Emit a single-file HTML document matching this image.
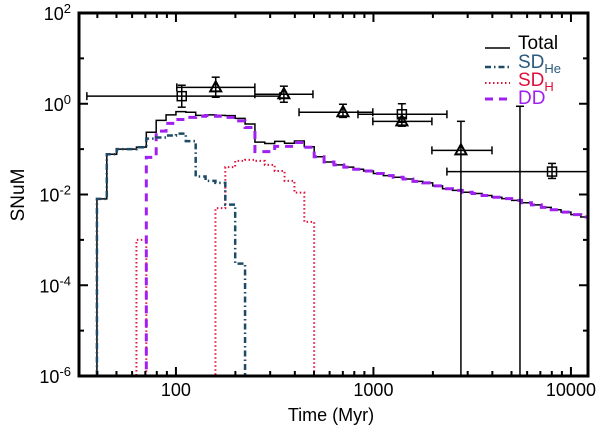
<!DOCTYPE html>
<html><head><meta charset="utf-8"><style>
html,body{margin:0;padding:0;background:#fff;width:600px;height:433px;overflow:hidden;}
svg{display:block;font-family:"Liberation Sans",Arial,sans-serif;}
</style></head><body>
<svg id="chart" width="600" height="433" viewBox="0 0 600 433" xmlns="http://www.w3.org/2000/svg">
<defs><clipPath id="clip"><rect x="79" y="13" width="509" height="363"/></clipPath></defs>
<g id="series" clip-path="url(#clip)"></g>
<g id="obs" clip-path="url(#clip)"></g>
<g id="axes"></g>
<g>
 <g>
  <line x1="485" y1="48" x2="510" y2="48" stroke="#000" stroke-width="1.5"/>
  <text x="518" y="49" font-size="19" fill="#000">Total</text></g>
 <g>
  <line x1="485" y1="67" x2="510" y2="67" stroke="#1d4a66" stroke-width="2.5" stroke-dasharray="6,3,1.5,3"/>
  <text x="518" y="68" font-size="19" fill="#2a5a7e">SD<tspan font-size="13" dy="5">He</tspan></text></g>
 <g>
  <line x1="485" y1="83" x2="510" y2="83" stroke="#e0103c" stroke-width="2" stroke-dasharray="1.5,2.5"/>
  <text x="518" y="86" font-size="19" fill="#e0103c">SD<tspan font-size="13" dy="5">H</tspan></text></g>
 <g>
  <line x1="485" y1="99" x2="510" y2="99" stroke="#a020f0" stroke-width="3" stroke-dasharray="8,6"/>
  <text x="518" y="104" font-size="19" fill="#a020f0">DD</text></g>
</g>
<text x="331" y="421" font-size="18" text-anchor="middle">Time (Myr)</text>
<text x="0" y="0" font-size="19" text-anchor="middle" transform="translate(24,195) rotate(-90)">SNuM</text>
</svg>
<script>
// bins: log-spaced edges 10^(1.6+0.05k)
const binStartLog = 1.6;
const binStepLog = 0.05;
const sdHe = [0.008,0.077,0.1,0.1,0.11,0.17,0.18,0.2,0.22,0.15,0.025,0.02,0.018,0.006,0.0003];
const sdH = [0,0,0,0,0.001,0,0,0,0,0,0,0,0.005,0.04,0.055,0.058,0.055,0.045,0.033,0.02,0.011,0.0025];
const dd = [0,0,0,0,0,0.066,0.25,0.37,0.45,0.5,0.53,0.55,0.53,0.5,0.42,0.3,0.088,0.088,0.115,0.115,0.14,0.11,0.068,0.052,0.045,0.04,0.036,0.033,0.029,0.026,0.024,0.022,0.0195,0.018,0.0155,0.0134,0.0123,0.0112,0.0105,0.0095,0.0087,0.0081,0.0074,0.0066,0.0059,0.0052,0.0046,0.0041,0.0036,0.0032];
// observations
const obsT = [107,159,352,701,1393,1393,2773,5520,8020];
const obsV = [1.47,2.3,1.62,0.65,0.586,0.41,0.094,null,0.032];
const obsTLo = [35.4,101,251,420,835,993,1977,null,2355];
const obsTHi = [336,251,494,993,2355,1977,3983,null,12200];
const obsVLo = [0.84,1.39,1.08,0.5,0.39,0.32,1e-6,1e-6,0.0226];
const obsVHi = [2.56,3.85,2.44,0.975,1.0,0.5,0.41,0.88,0.0484];
const obsMarker = ['square','triangle','triangle','triangle','square','triangle','triangle','none','square'];
const xTickLabels = ['100','1000','10000'];
const yTickExps = [2,0,-2,-4,-6];

const X0=79,X1=588,Y0=13,Y1=376;
const xMinLog=Math.log10(32.3), xMaxLog=Math.log10(12200);
const yMinLog=-6, yMaxLog=2;
const xs=t=>X0+(Math.log10(t)-xMinLog)/(xMaxLog-xMinLog)*(X1-X0);
const ys=v=>Y1-(Math.log10(Math.max(v,1e-6))-yMinLog)/(yMaxLog-yMinLog)*(Y1-Y0);
const NS='http://www.w3.org/2000/svg';
function mk(tag,attrs,parent){const e=document.createElementNS(NS,tag);for(const k in attrs)e.setAttribute(k,attrs[k]);parent.appendChild(e);return e;}
const edge=k=>Math.pow(10,binStartLog+binStepLog*k);

function stepPath(vals){
  let d='',started=false;
  for(let k=0;k<vals.length;k++){
    const v=vals[k]>0?vals[k]:1e-6;
    const xa=xs(edge(k)),xb=xs(edge(k+1)),y=ys(v);
    if(!started){d+='M'+xa+','+Y1+' L'+xa+','+y;started=true;}
    else d+=' L'+xa+','+y;
    d+=' L'+xb+','+y;
  }
  d+=' L'+Math.min(xs(edge(vals.length)),X1)+','+Y1;
  return d;
}
const total=[];
for(let k=0;k<dd.length;k++){total.push((sdHe[k]||0)+(sdH[k]||0)+(dd[k]||0));}
const sg=document.getElementById('series');
let p;
p=mk('path',{d:stepPath(sdH),fill:'none',stroke:'#e0103c','stroke-width':2,'stroke-dasharray':'1.5,2.5'},sg);


p=mk('path',{d:stepPath(total),fill:'none',stroke:'#000','stroke-width':1.5},sg);


p=mk('path',{d:stepPath(dd),fill:'none',stroke:'#a020f0','stroke-width':3,'stroke-dasharray':'8,6'},sg);


p=mk('path',{d:stepPath(sdHe),fill:'none',stroke:'#1d4a66','stroke-width':2.5,'stroke-dasharray':'6,3,1.5,3'},sg);



const og=document.getElementById('obs');
for(let i=0;i<obsT.length;i++){
  const g=mk('g',{},og);
  
  
  const cx=xs(obsT[i]);
  const st={stroke:'#000','stroke-width':1.5,fill:'none'};
  const yl=ys(obsVLo[i]),yh=ys(obsVHi[i]);
  mk('line',Object.assign({x1:cx,y1:yl,x2:cx,y2:yh},st),g);
  mk('line',Object.assign({x1:cx-4,y1:yh,x2:cx+4,y2:yh},st),g);
  if(yl<Y1-1) mk('line',Object.assign({x1:cx-4,y1:yl,x2:cx+4,y2:yl},st),g);
  if(obsV[i]!==null){
    const cy=ys(obsV[i]);
    const xl=xs(obsTLo[i]),xh=xs(obsTHi[i]);
    mk('line',Object.assign({x1:xl,y1:cy,x2:xh,y2:cy},st),g);
    mk('line',Object.assign({x1:xl,y1:cy-4,x2:xl,y2:cy+4},st),g);
    if(xh<X1-1) mk('line',Object.assign({x1:xh,y1:cy-4,x2:xh,y2:cy+4},st),g);
    if(obsMarker[i]==='square'){
      mk('rect',Object.assign({x:cx-4.5,y:cy-4.5,width:9,height:9},st),g);
    }else if(obsMarker[i]==='triangle'){
      mk('path',Object.assign({d:'M'+(cx-5.5)+','+(cy+4)+' L'+(cx+5.5)+','+(cy+4)+' L'+cx+','+(cy-6)+' Z'},st,{'stroke-width':2}),g);
    }
  }
}

const ag=document.getElementById('axes');
const frame=mk('rect',{x:X0,y:Y0,width:X1-X0,height:Y1-Y0,fill:'none',stroke:'#000','stroke-width':3},ag);


// x ticks
for(let e=1;e<=4;e++){
  for(let m=1;m<10;m++){
    const t=m*Math.pow(10,e);const x=xs(t);
    if(x<X0+1||x>X1-1)continue;
    const L=m===1?9:5;
    mk('line',{x1:x,y1:Y1,x2:x,y2:Y1-L,stroke:'#000','stroke-width':2},ag);
    mk('line',{x1:x,y1:Y0,x2:x,y2:Y0+L,stroke:'#000','stroke-width':2},ag);
  }
}
xTickLabels.forEach(s=>{
  const t=mk('text',{x:xs(+s),y:396,'font-size':18,'text-anchor':'middle'},ag);
  t.textContent=s;
  
  
});
// y ticks
for(let e=-6;e<=2;e++){
  const y=ys(Math.pow(10,e));const L=(e%2===0)?9:5;
  mk('line',{x1:X0,y1:y,x2:X0+L,y2:y,stroke:'#000','stroke-width':2},ag);
  mk('line',{x1:X1,y1:y,x2:X1-L,y2:y,stroke:'#000','stroke-width':2},ag);
}
yTickExps.forEach(e=>{
  const t=mk('text',{x:71,y:ys(Math.pow(10,e))+7,'font-size':18,'text-anchor':'end'},ag);
  
  
  const a=document.createElementNS(NS,'tspan');a.textContent='10';t.appendChild(a);
  const b=document.createElementNS(NS,'tspan');b.setAttribute('font-size','13');b.setAttribute('dy','-7');b.textContent=String(e);t.appendChild(b);
});
</script>
</body></html>
